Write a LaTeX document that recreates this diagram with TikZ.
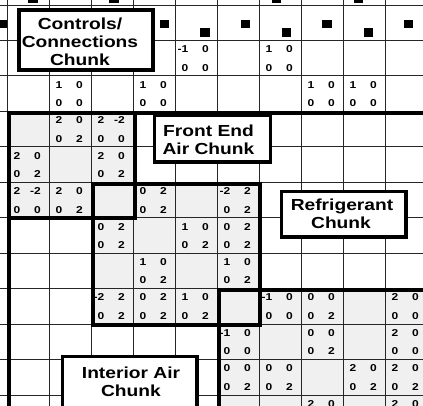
\documentclass[tikz,border=0pt]{standalone}
\usepackage{fontspec}
\setmainfont{Liberation Sans}[FakeStretch=1.2]
\begin{document}
\begin{tikzpicture}[x=1pt,y=-1pt,
  gridline/.style={line width=0.9pt, black!85},
  chunkline/.style={line width=4pt, line cap=rect, line join=miter},
  labelbox/.style={draw, line width=3.8pt, fill=white},
  labeltext/.style={font=\fontsize{16}{18}\selectfont\bfseries, inner sep=0pt, anchor=base},
  num/.style={font=\fontsize{10}{12}\selectfont\bfseries, inner sep=0pt, anchor=base east},
  sq/.style={fill=black},
  cellfill/.style={fill=black!6}]
\useasboundingbox (0,0) rectangle (423,405);
\clip (0,0) rectangle (423,405);
\fill[white] (0,0) rectangle (423,405);
% shaded chunk cells
\fill[cellfill] (7,111.35) rectangle (133,217.7);
\fill[cellfill] (91,182.25) rectangle (259,324.05);
\fill[cellfill] (217,288.6) rectangle (430,410);
% grid
\foreach \i in {0,...,9} \draw[gridline] ({7+42*\i},-2) -- ({7+42*\i},410);
\foreach \j in {0,...,11} \draw[gridline] (-2,{5+35.45*\j}) -- (430,{5+35.45*\j});
% diagonal markers
\foreach \x in {-3,159.5,240.5,322,403.5} \fill[sq] (\x,19.5) rectangle ++(9.5,8.5);
\foreach \x in {200,281.5,363.5} \fill[sq] (\x,28) rectangle ++(9.5,8.5);
\foreach \x in {28,109,271.5,353.5} \fill[sq] (\x,-6) rectangle ++(9.5,8.7);
% entries
\foreach \i/\j/\a/\b/\c/\d in {
  4/1/-1/0/0/0, 6/1/1/0/0/0,
  1/2/1/0/0/0, 3/2/1/0/0/0, 7/2/1/0/0/0, 8/2/1/0/0/0,
  1/3/2/0/0/2, 2/3/2/-2/0/0,
  0/4/2/0/0/2, 2/4/2/0/0/2,
  0/5/2/-2/0/0, 1/5/2/0/0/2, 3/5/0/2/0/2, 5/5/-2/2/0/2,
  2/6/0/2/0/2, 4/6/1/0/0/2, 5/6/0/2/0/2,
  3/7/1/0/0/2, 5/7/1/0/0/2,
  2/8/-2/2/0/2, 3/8/0/2/0/2, 4/8/1/0/0/2, 6/8/-1/0/0/0, 7/8/0/0/0/2, 9/8/2/0/0/0,
  5/9/-1/0/0/0, 7/9/0/0/0/2, 9/9/2/0/0/0,
  5/10/0/0/0/2, 6/10/0/0/0/2, 8/10/2/0/0/2, 9/10/2/0/0/2}{
  \node[num] (e\i-\j-a) at ({7+42*\i+13.5},{5+35.45*\j+12.3}) {\a};
  \node[num] (e\i-\j-b) at ({7+42*\i+34},{5+35.45*\j+12.3}) {\b};
  \node[num] (e\i-\j-c) at ({7+42*\i+13.5},{5+35.45*\j+30.8}) {\c};
  \node[num] (e\i-\j-d) at ({7+42*\i+34},{5+35.45*\j+30.8}) {\d};
}
\foreach \i/\j/\a/\b in {7/11/2/0, 9/11/2/0}{
  \node[num] (e\i-\j-a) at ({7+42*\i+13.5},{5+35.45*\j+12.3}) {\a};
  \node[num] (e\i-\j-b) at ({7+42*\i+34},{5+35.45*\j+12.3}) {\b};
}
% chunk outlines
\draw[chunkline] (8.5,412) -- (8.5,112.5) -- (432,112.5);
\draw[chunkline] (8.5,217.5) -- (134.5,217.5) -- (134.5,112.5);
\draw[chunkline] (92.5,184) rectangle (260,324.5);
\draw[chunkline] (219,412) -- (219,290) -- (432,290);
% labels
\draw[labelbox] (19,10) rectangle (153,70);
\node[labeltext] (c1) at (80,29) {Controls/};
\node[labeltext] (c2) at (80,47) {Connections};
\node[labeltext] (c3) at (80,65) {Chunk};
\draw[labelbox] (154.5,115.5) rectangle (270.5,162);
\node[labeltext] (f1) at (208.5,136) {Front End};
\node[labeltext] (f2) at (208.5,154) {Air Chunk};
\draw[labelbox] (281.5,191.5) rectangle (406,237);
\node[labeltext] (r1) at (342,210) {Refrigerant};
\node[labeltext] (r2) at (341,228) {Chunk};
\draw[labelbox] (62.5,356.5) rectangle (197,420);
\node[labeltext] (i1) at (131,378) {Interior Air};
\node[labeltext] (i2) at (131,396) {Chunk};
\end{tikzpicture}
\end{document}
